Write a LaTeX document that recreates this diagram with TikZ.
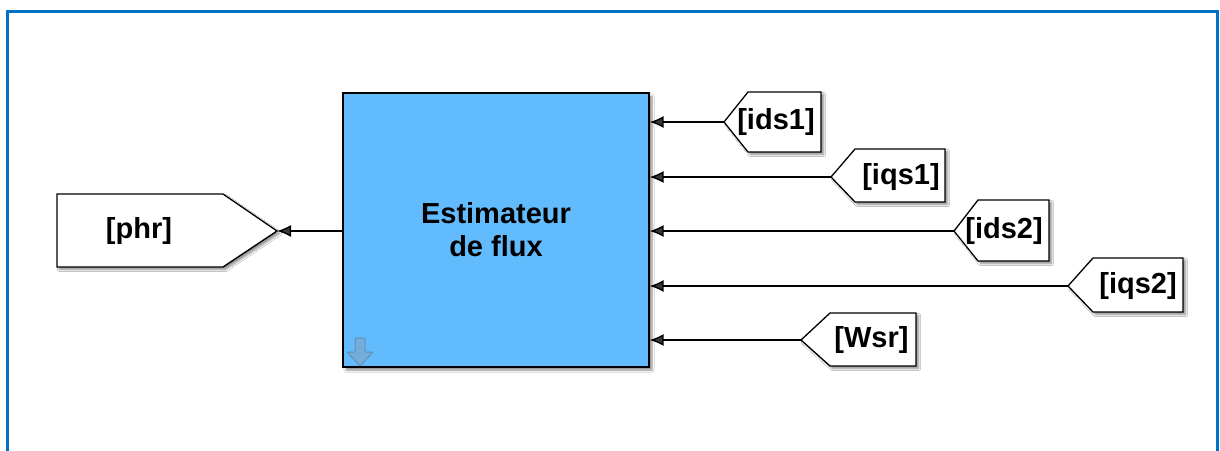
\documentclass[tikz,border=0pt]{standalone}
\usepackage{fontspec}
\setmainfont{Liberation Sans}
\usetikzlibrary{arrows.meta,shadows.blur}

\definecolor{framecol}{RGB}{0,114,198}
\definecolor{blockcol}{RGB}{98,187,252}
\definecolor{iconcol}{RGB}{120,170,215}

\tikzset{
  sig/.style={line width=1.4pt,-{Latex[length=14pt,width=12pt]}},
  tagshape/.style={draw=black,line width=1.3pt,fill=white,
    blur shadow={shadow xshift=2.5pt,shadow yshift=-2.5pt,shadow blur steps=6,shadow opacity=45}},
  taglabel/.style={font=\fontsize{29}{32}\selectfont\bfseries,inner sep=0pt},
  blockbox/.style={draw=black,line width=1.3pt,fill=blockcol,
    minimum width=306pt,minimum height=274pt,align=center,
    font=\fontsize{29}{33}\selectfont\bfseries,
    blur shadow={shadow xshift=3pt,shadow yshift=-3pt,shadow blur steps=6,shadow opacity=45}}
}

% From-tag pointing left: name, tip x, y, shoulder x, right x, top, bottom, label, label x
\newcommand\intag[9]{%
  \draw[tagshape] (#2,#3) -- (#4,#6) -- (#5,#6) -- (#5,#7) -- (#4,#7) -- cycle;
  \coordinate (#1) at (#2,#3);
  \node[taglabel] (#1-label) at (#9,#3) {#8};
}

\begin{document}
\begin{tikzpicture}[x=1pt,y=-1pt]
  \useasboundingbox (0,0) rectangle (1220,450);
  \fill[white] (0,0) rectangle (1220,450);

  % window frame
  \draw[framecol,line width=3pt] (7.5,470) -- (7.5,11.5) -- (1217.5,11.5) -- (1217.5,470);

  % estimator block
  \node[blockbox] (blk) at (496,230) {Estimateur\\ de flux};
  \filldraw[fill=iconcol,draw=iconcol!85!black,fill opacity=0.85,line width=1pt,line join=round]
    (355,338) -- (365,338) -- (365,352) -- (373,352) -- (360,366)
    -- (347,352) -- (355,352) -- cycle;

  % output goto tag
  \draw[tagshape] (57,194) -- (223,194) -- (277,231) -- (223,267) -- (57,267) -- cycle;
  \coordinate (phr) at (277,231);
  \node[taglabel] (phr-label) at (139,231) {[phr]};

  % input from tags
  \intag{ids1}{724}{122}{748}{821}{92}{152}{[ids1]}{776}
  \intag{iqs1}{831}{177}{855}{945}{149}{202}{[iqs1]}{901}
  \intag{ids2}{954}{231}{978}{1049}{200}{261}{[ids2]}{1004}
  \intag{iqs2}{1068}{286}{1093}{1183}{258}{312}{[iqs2]}{1138}
  \intag{wsr}{801}{340}{830}{916}{313}{366}{[Wsr]}{871.5}

  % signal lines
  \draw[sig] (blk.west |- phr) -- (phr);
  \draw[sig] (ids1) -- (ids1 -| blk.east);
  \draw[sig] (iqs1) -- (iqs1 -| blk.east);
  \draw[sig] (ids2) -- (ids2 -| blk.east);
  \draw[sig] (iqs2) -- (iqs2 -| blk.east);
  \draw[sig] (wsr) -- (wsr -| blk.east);
\end{tikzpicture}
\end{document}
